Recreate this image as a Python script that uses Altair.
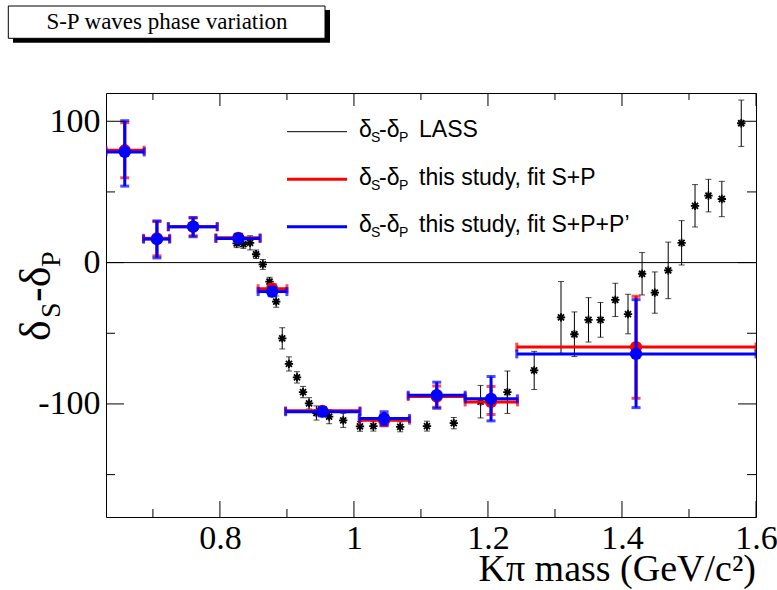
import altair as alt
import pandas as pd

# ---------------- data ----------------
lass_mass = [0.825, 0.835, 0.845, 0.854, 0.864, 0.874, 0.884, 0.893, 0.903, 0.915,
             0.924, 0.933, 0.944, 0.963, 0.984, 1.009, 1.029, 1.069, 1.109, 1.149,
             1.189, 1.229, 1.269, 1.309, 1.329, 1.350, 1.368, 1.390, 1.409, 1.430,
             1.449, 1.469, 1.489, 1.509, 1.529, 1.549, 1.578]
lass_phase = [13.6, 13.1, 14.0, 5.9, -1.3, -13.4, -27.6, -53.6, -71.7, -81.2,
              -91.6, -99.6, -106.4, -109.0, -111.6, -115.9, -115.7, -116.2, -115.7, -113.6,
              -98.4, -91.7, -76.3, -38.8, -50.7, -40.5, -40.5, -26.4, -36.4, -7.9,
              -21.2, -5.5, 14.0, 40.2, 47.4, 45.0, 98.6]
lass_err = [3, 3, 5, 3, 3.5, 3, 4, 7.5, 5, 4,
            4, 4, 5, 5, 5, 3.5, 3.5, 3.5, 3.5, 4,
            11.5, 15, 13.5, 25.4, 15.8, 15.7, 12.3, 11.8, 14, 15,
            14.6, 20, 15.7, 15, 11.5, 12.5, 16.4]

fit_mass = [0.658, 0.706, 0.760, 0.8275, 0.878, 0.953, 1.045, 1.1236, 1.2046, 1.421]
fit_mlo = [0.630, 0.686, 0.723, 0.794, 0.857, 0.898, 1.008, 1.081, 1.166, 1.243]
fit_mhi = [0.687, 0.725, 0.796, 0.860, 0.900, 1.009, 1.083, 1.166, 1.244, 1.600]

sp_phase = [79.5, 17.2, 25.4, 17.5, -18.5, -104.9, -111.5, -94.8, -98.6, -59.8]
sp_lo = [60.0, 4.8, 19.0, 15.0, -21.5, -107.5, -115.5, -102.3, -107.5, -96.0]
sp_hi = [99.0, 29.0, 31.5, 20.0, -15.5, -102.5, -107.5, -87.3, -87.6, -23.8]

spp_phase = [78.3, 16.6, 25.4, 17.1, -20.5, -105.5, -110.3, -93.8, -96.4, -64.6]
spp_lo = [54.1, 3.3, 18.3, 14.0, -23.5, -108.5, -115.0, -103.1, -112.0, -102.6]
spp_hi = [100.4, 29.5, 31.9, 20.0, -17.5, -102.5, -105.5, -84.6, -80.6, -26.2]

x_major = [0.8, 1.0, 1.2, 1.4, 1.6]
x_minor = [0.7, 0.9, 1.1, 1.3, 1.5]
y_major = [-100, 0, 100]
y_minor = [-150, -50, 50]

legend_labels = ["LASS", "this study, fit S+P", "this study, fit S+P+P\u2019"]
legend_colors = ["black", "#ff0000", "#0000ff"]

# ---------------- layout constants ----------------
W, H = 650, 424
SERIF = "Liberation Serif"
SANS = "Liberation Sans"

xs = alt.Scale(domain=[0.63, 1.6], nice=False, zero=False)
ys = alt.Scale(domain=[-180, 120], nice=False, zero=False)
xax = alt.Axis(values=x_major, labelExpr="'' + datum.value", title=None, labelPadding=4,
               labelFlush=False, labelOverlap=False)
yax = alt.Axis(values=y_major, labelExpr="'' + datum.value", title=None, labelPadding=6,
               labelOverlap=False)


def X(f):
    return alt.X(f, type="quantitative", scale=xs, axis=xax)


def Y(f):
    return alt.Y(f, type="quantitative", scale=ys, axis=yax)


one = pd.DataFrame({"a": [0]})
layers = []

# zero line
layers.append(alt.Chart(one).mark_rule(color="black", strokeWidth=1).encode(y=alt.datum(0, scale=ys, axis=yax)))

# LASS
lass = pd.DataFrame({"mass": lass_mass, "phase": lass_phase, "err": lass_err})
lass["lo"] = lass["phase"] - lass["err"]
lass["hi"] = lass["phase"] + lass["err"]
lb = alt.Chart(lass)
layers.append(lb.mark_rule(color="black", strokeWidth=1).encode(x=X("mass"), y=Y("lo"), y2="hi"))
layers.append(lb.mark_tick(color="black", orient="horizontal", size=6, thickness=1).encode(x=X("mass"), y=Y("lo")))
layers.append(lb.mark_tick(color="black", orient="horizontal", size=6, thickness=1).encode(x=X("mass"), y=Y("hi")))
asterisk = "M-1,0L1,0M0,-1L0,1M-0.72,-0.72L0.72,0.72M-0.72,0.72L0.72,-0.72"
layers.append(lb.mark_point(shape=asterisk, filled=False, size=70, stroke="black",
                            strokeWidth=1.8, opacity=1).encode(x=X("mass"), y=Y("phase")))


def fit_layers(ph, lo, hi, color):
    df = pd.DataFrame({"mass": fit_mass, "mlo": fit_mlo, "mhi": fit_mhi,
                       "phase": ph, "plo": lo, "phi": hi})
    b = alt.Chart(df)
    out = [
        b.mark_rule(color=color, strokeWidth=3, clip=True).encode(x=X("mlo"), x2="mhi", y=Y("phase")),
        b.mark_rule(color=color, strokeWidth=3, clip=True).encode(x=X("mass"), y=Y("plo"), y2="phi"),
        b.mark_tick(color=color, orient="vertical", size=9, thickness=3, clip=True).encode(x=X("mlo"), y=Y("phase")),
        b.mark_tick(color=color, orient="vertical", size=9, thickness=3, clip=True).encode(x=X("mhi"), y=Y("phase")),
        b.mark_tick(color=color, orient="horizontal", size=9, thickness=3, clip=True).encode(x=X("mass"), y=Y("plo")),
        b.mark_tick(color=color, orient="horizontal", size=9, thickness=3, clip=True).encode(x=X("mass"), y=Y("phi")),
        b.mark_point(shape="circle", filled=True, size=150, color=color, opacity=1).encode(x=X("mass"), y=Y("phase")),
    ]
    return out


layers += fit_layers(sp_phase, sp_lo, sp_hi, "#ff0000")
layers += fit_layers(spp_phase, spp_lo, spp_hi, "#0000ff")

# inward ticks (ROOT style)
xM = alt.Chart(pd.DataFrame({"v": x_major}))
xm = alt.Chart(pd.DataFrame({"v": x_minor}))
yM = alt.Chart(pd.DataFrame({"v": y_major}))
ym = alt.Chart(pd.DataFrame({"v": y_minor}))
tk = dict(color="black", strokeWidth=1)
layers += [
    xM.mark_rule(**tk).encode(x=X("v"), y=alt.value(H), y2=alt.value(H - 16)),
    xm.mark_rule(**tk).encode(x=X("v"), y=alt.value(H), y2=alt.value(H - 8)),
    xM.mark_rule(**tk).encode(x=X("v"), y=alt.value(0), y2=alt.value(13)),
    xm.mark_rule(**tk).encode(x=X("v"), y=alt.value(0), y2=alt.value(7)),
    yM.mark_rule(**tk).encode(y=Y("v"), x=alt.value(0), x2=alt.value(18)),
    ym.mark_rule(**tk).encode(y=Y("v"), x=alt.value(0), x2=alt.value(9)),
    yM.mark_rule(**tk).encode(y=Y("v"), x=alt.value(W - 18), x2=alt.value(W)),
    ym.mark_rule(**tk).encode(y=Y("v"), x=alt.value(W - 9), x2=alt.value(W)),
]

# legend
leg_y = [38.7, 86.3, 133.7]
for i, (lab, col) in enumerate(zip(legend_labels, legend_colors)):
    yb = leg_y[i] + 5.5
    layers.append(alt.Chart(one).mark_rule(color=col, strokeWidth=1 if i == 0 else 3).encode(
        x=alt.value(181), x2=alt.value(241), y=alt.value(leg_y[i])))
    for txt, xx, dy, fs in [("\u03b4", 253, 0, 23), ("S", 265, 5, 14), ("-\u03b4", 273, 0, 23),
                            ("P", 293, 5, 14), (lab, 313, 0, 23)]:
        layers.append(alt.Chart(one).mark_text(text=txt, font=SANS, fontSize=fs, align="left",
                                               baseline="alphabetic", color="black").encode(
            x=alt.value(xx), y=alt.value(yb + dy)))

# y-axis title  delta_S - delta_P (rotated)
for txt, yy, xb, fs in [("\u03b4", 248, -56, 44), ("S", 225, -46, 28), ("-\u03b4", 209, -56, 44), ("P", 174, -46, 28)]:
    layers.append(alt.Chart(one).mark_text(text=txt, font=SERIF, fontSize=fs, angle=270, align="left",
                                           baseline="alphabetic", color="black").encode(
        x=alt.value(xb), y=alt.value(yy)))

# x-axis title
layers.append(alt.Chart(one).mark_text(text="K\u03c0 mass (GeV/c\u00b2)", font=SERIF, fontSize=38,
                                       align="right", baseline="alphabetic", color="black").encode(
    x=alt.value(W), y=alt.value(488)))

# title box with shadow
layers.append(alt.Chart(one).mark_rect(color="black").encode(
    x=alt.value(-93), x2=alt.value(224), y=alt.value(-83), y2=alt.value(-50.3)))
layers.append(alt.Chart(one).mark_rect(fill="white", stroke="black", strokeWidth=1).encode(
    x=alt.value(-97.7), x2=alt.value(219), y=alt.value(-87), y2=alt.value(-54.7)))
layers.append(alt.Chart(one).mark_text(text="S-P waves phase variation", font=SERIF, fontSize=23,
                                       align="center", baseline="alphabetic", color="black").encode(
    x=alt.value(61), y=alt.value(-64.5)))

chart = alt.layer(*layers).properties(
    width=W, height=H,
    autosize=alt.AutoSizeParams(type="none"),
    padding={"left": 106, "top": 93, "right": 21, "bottom": 73},
    background="white",
).configure_view(stroke="black", strokeWidth=1).configure_axis(
    grid=False, domain=False, ticks=False, tickSize=0,
    labelFont=SERIF, labelFontSize=34, labelColor="black",
)

chart.save("out.html", embed_options={"renderer": "svg", "actions": False})
